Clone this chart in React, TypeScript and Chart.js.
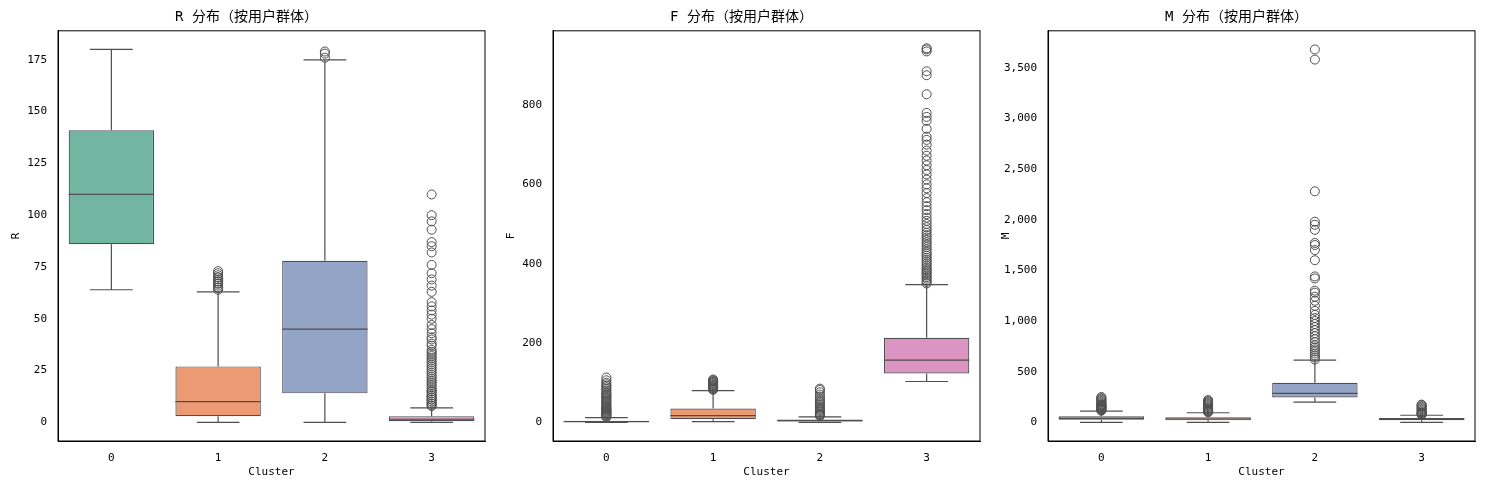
import React, { useEffect, useRef } from 'react';
import { Chart, registerables } from 'chart.js';

Chart.register(...registerables);

const clusters = ['0', '1', '2', '3'];
const boxColors = ['#72b6a1', '#ec9a73', '#93a4c7', '#dc94c3'];
const lineColor = '#4f4f4f';

// [low whisker, q1, median, q3, high whisker] per cluster
const rStats = [[64, 86, 110, 141, 180], [0, 3, 10, 27, 63], [0, 14, 45, 78, 175], [0, 0.5, 1.5, 3, 7]];
const rOutliers = [
    [],
    [64, 65, 65, 66, 67, 67, 68, 68, 69, 70, 70, 71, 72, 73],
    [176, 178, 179],
    [8, 8, 9, 9, 10, 10, 11, 11, 12, 12, 13, 13, 14, 15, 15, 16, 17, 18, 19, 20, 21, 22, 23, 24, 25, 26, 27, 28, 29, 30, 31, 32, 33, 34, 35, 37, 38, 40, 41, 43, 45, 47, 50, 52, 54, 56, 58, 63, 66, 69, 72, 76, 82, 85, 87, 93, 97, 100, 110],
];
const fStats = [[0, 1, 2, 4, 12], [2, 8, 17, 35, 80], [0, 2, 4, 7, 14], [103, 123, 157, 213, 347]];
const fOutliers = [
    [13, 15, 17, 19, 21, 23, 25, 27, 29, 31, 33, 35, 37, 40, 43, 46, 49, 52, 55, 58, 61, 64, 67, 70, 73, 76, 80, 84, 88, 92, 96, 100, 106, 113],
    [82, 84, 86, 88, 90, 92, 94, 96, 98, 100, 102, 104, 106, 108],
    [16, 18, 20, 22, 25, 28, 31, 34, 37, 40, 44, 48, 52, 56, 60, 65, 70, 76, 82, 85],
    [350, 354, 358, 362, 366, 370, 374, 378, 382, 386, 390, 395, 400, 405, 410, 415, 420, 425, 430, 436, 442, 448, 454, 460, 466, 472, 478, 485, 492, 500, 508, 516, 525, 535, 545, 555, 565, 578, 590, 600, 612, 625, 636, 648, 660, 672, 685, 700, 712, 720, 740, 760, 770, 780, 827, 875, 885, 935, 940, 943],
];
const mStats = [[0, 25, 40, 60, 110], [0, 20, 33, 50, 95], [200, 245, 285, 390, 615], [0, 22, 32, 42, 70]];
const mOutliers = [
    [115, 120, 125, 130, 135, 140, 145, 150, 155, 160, 165, 170, 175, 180, 190, 200, 210, 220, 230, 240, 250],
    [100, 105, 110, 115, 120, 130, 140, 150, 160, 170, 180, 190, 200, 210, 220],
    [620, 640, 660, 680, 700, 720, 740, 760, 790, 820, 850, 880, 910, 940, 970, 1000, 1030, 1060, 1100, 1150, 1200, 1240, 1280, 1300, 1420, 1440, 1600, 1700, 1750, 1770, 1900, 1950, 1980, 2280, 3580, 3680],
    [75, 80, 85, 90, 95, 100, 110, 120, 130, 140, 150, 160, 170, 175],
];

const font = { family: '"DejaVu Sans Mono", "Noto Sans CJK SC", monospace', size: 11 };

const whiskerPlugin = {
    id: 'whiskers',
    beforeDatasetsDraw(chart: any) {
        const stats = chart.options.plugins.whiskers.stats as number[][];
        const x = chart.scales.x, y = chart.scales.y, ctx = chart.ctx;
        const half = (x.getPixelForValue(1) - x.getPixelForValue(0)) * 0.4;
        ctx.save();
        ctx.strokeStyle = lineColor;
        ctx.lineWidth = 1.2;
        stats.forEach((s, i) => {
            const cx = x.getPixelForValue(i);
            ctx.beginPath();
            ctx.moveTo(cx, y.getPixelForValue(s[0])); ctx.lineTo(cx, y.getPixelForValue(s[1]));
            ctx.moveTo(cx, y.getPixelForValue(s[3])); ctx.lineTo(cx, y.getPixelForValue(s[4]));
            ctx.moveTo(cx - half / 2, y.getPixelForValue(s[0])); ctx.lineTo(cx + half / 2, y.getPixelForValue(s[0]));
            ctx.moveTo(cx - half / 2, y.getPixelForValue(s[4])); ctx.lineTo(cx + half / 2, y.getPixelForValue(s[4]));
            ctx.stroke();
        });
        ctx.restore();
    },
    afterDatasetsDraw(chart: any) {
        const stats = chart.options.plugins.whiskers.stats as number[][];
        const x = chart.scales.x, y = chart.scales.y, ctx = chart.ctx;
        const half = (x.getPixelForValue(1) - x.getPixelForValue(0)) * 0.4;
        ctx.save();
        ctx.strokeStyle = lineColor;
        ctx.lineWidth = 1.2;
        stats.forEach((s, i) => {
            const cx = x.getPixelForValue(i);
            const my = y.getPixelForValue(s[2]);
            ctx.beginPath();
            ctx.moveTo(cx - half, my); ctx.lineTo(cx + half, my);
            ctx.stroke();
        });
        const a = chart.chartArea;
        ctx.strokeStyle = '#000';
        ctx.lineWidth = 1;
        ctx.strokeRect(a.left, a.top, a.right - a.left, a.bottom - a.top);
        ctx.restore();
    },
};

const BoxPanel = ({ title, label, stats, outliers, min, max, step, left }: any) => {
    const ref = useRef<HTMLCanvasElement | null>(null);
    useEffect(() => {
        if (!ref.current) return;
        const points: any[] = [];
        outliers.forEach((arr: number[], i: number) => arr.forEach(v => points.push({ x: clusters[i], y: v })));
        const chart = new Chart(ref.current, {
            type: 'bar',
            data: {
                labels: clusters,
                datasets: [
                    {
                        type: 'bar',
                        data: stats.map((s: number[]) => [s[1], s[3]]),
                        backgroundColor: boxColors,
                        borderColor: lineColor,
                        borderWidth: 1.2,
                        borderSkipped: false,
                        barPercentage: 0.8,
                        categoryPercentage: 1,
                    } as any,
                    {
                        type: 'scatter',
                        data: points,
                        pointRadius: 4.5,
                        pointBackgroundColor: 'rgba(0,0,0,0)',
                        pointBorderColor: lineColor,
                        pointBorderWidth: 1,
                    } as any,
                ],
            },
            options: {
                responsive: false,
                animation: false,
                layout: { padding: { left: 8, right: 10, bottom: 9 } },
                plugins: {
                    legend: { display: false },
                    tooltip: { enabled: false },
                    title: { display: true, text: title, color: '#000', font: { ...font, size: 14, weight: 'normal' }, padding: { top: 9, bottom: 5 } },
                    whiskers: { stats },
                } as any,
                scales: {
                    x: {
                        type: 'category',
                        grid: { display: false },
                        border: { color: '#000' },
                        ticks: { color: '#000', font },
                        title: { display: true, text: 'Cluster', color: '#000', font, padding: 2 },
                        afterFit: (s: any) => { s.height = 40; },
                    },
                    y: {
                        min, max,
                        grid: { display: false },
                        border: { color: '#000' },
                        ticks: { color: '#000', font },
                        title: { display: true, text: label, color: '#000', font, padding: 2 },
                        afterBuildTicks: (s: any) => {
                            const t: any[] = [];
                            for (let v = 0; v <= max; v += step) t.push({ value: v });
                            s.ticks = t;
                        },
                        afterFit: (s: any) => { s.width = 50; },
                    },
                },
            },
            plugins: [whiskerPlugin],
        });
        return () => chart.destroy();
    }, []);
    return <canvas ref={ref} width={495} height={490} style={{ position: 'absolute', left, top: 0 }} />;
};

const App = () => (
    <div style={{ position: 'absolute', left: 0, top: 0, width: 1490, height: 490, background: '#fff' }}>
        <BoxPanel title="R 分布（按用户群体）" label="R" stats={rStats} outliers={rOutliers} min={-9} max={189} step={25} left={0} />
        <BoxPanel title="F 分布（按用户群体）" label="F" stats={fStats} outliers={fOutliers} min={-47} max={987} step={200} left={495} />
        <BoxPanel title="M 分布（按用户群体）" label="M" stats={mStats} outliers={mOutliers} min={-184} max={3864} step={500} left={990} />
    </div>
);

export default App;
